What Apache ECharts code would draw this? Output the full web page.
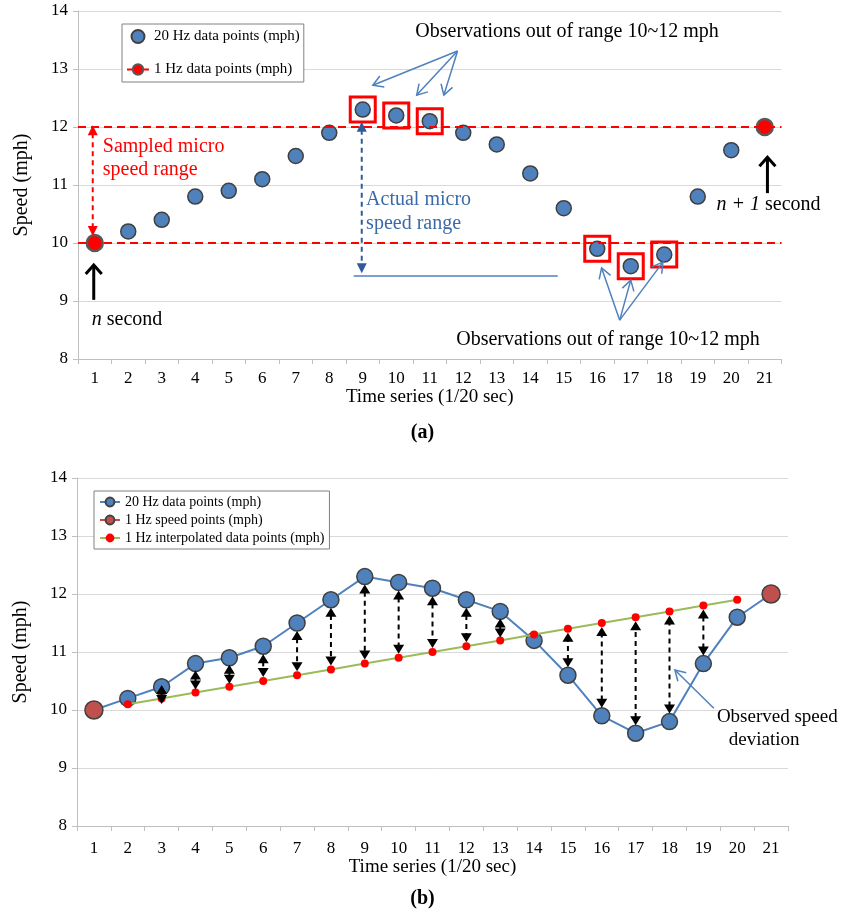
<!DOCTYPE html>
<html><head><meta charset="utf-8">
<script src="https://cdn.jsdelivr.net/npm/echarts@6/dist/echarts.min.js"></script>
<style>html,body{margin:0;padding:0;background:#fff}#c{width:845px;height:913px}</style>
</head><body><div id="c"></div>
<script>
// ---------------- data ----------------
const timeSteps = [1,2,3,4,5,6,7,8,9,10,11,12,13,14,15,16,17,18,19,20,21];
const speed20Hz = [10.0,10.2,10.4,10.8,10.9,11.1,11.5,11.9,12.3,12.2,12.1,11.9,11.7,11.2,10.6,9.9,9.6,9.8,10.8,11.6,12.0];
const oneHzSteps = [1,21];
const oneHzSpeed = [10.0,12.0];
const interpSteps = [2,3,4,5,6,7,8,9,10,11,12,13,14,15,16,17,18,19,20];
const interpSpeed = [10.1,10.2,10.3,10.4,10.5,10.6,10.7,10.8,10.9,11.0,11.1,11.2,11.3,11.4,11.5,11.6,11.7,11.8,11.9];
const deviationSteps = [3,4,5,6,7,8,9,10,11,12,13,15,16,17,18,19];
const yMin = 8, yMax = 14, yStep = 1;
const rangeLow = 10, rangeHigh = 12;

// ---------------- derived ----------------
const FONT = 'Liberation Serif';
const pts20a = timeSteps.map((t,i)=>[t,speed20Hz[i]]).filter(p=>oneHzSteps.indexOf(p[0])<0);
const pts20b = timeSteps.map((t,i)=>[t,speed20Hz[i]]);
const ptsOut = pts20a.filter(p=>p[1]>rangeHigh||p[1]<rangeLow);
const pts1Hz = [[oneHzSteps[0],oneHzSpeed[0]],[(oneHzSteps[0]+oneHzSteps[1])/2,null],[oneHzSteps[1],oneHzSpeed[1]]];
const ptsInterp = interpSteps.map((t,i)=>[t,interpSpeed[i]]);
const cats = timeSteps.map(String);

const N20a = '20 Hz data points (mph)';
const N1a = '1 Hz data points (mph)';
const N20b = '20 Hz data points (mph) ';
const N1b = '1 Hz speed points (mph)';
const NIb = '1 Hz interpolated data points (mph)';

function catAxis(g, gap, margin){
  return {type:'category', gridIndex:g, data:cats, boundaryGap:true,
    axisLine:{lineStyle:{color:'#bfbfbf',width:1}},
    axisTick:{show:true,interval:0,length:5,lineStyle:{color:'#bfbfbf'}},
    axisLabel:{interval:0,color:'#000',fontSize:17,fontFamily:FONT,margin:margin},
    splitLine:{show:false},
    name:'Time series (1/20 sec)', nameLocation:'middle', nameGap:gap,
    nameTextStyle:{color:'#000',fontSize:19,fontFamily:FONT}};
}
function valX(g){ return {type:'value', gridIndex:g, min:0.5, max:21.5, show:false}; }
function yAx(g){
  return {type:'value', gridIndex:g, min:yMin, max:yMax, interval:yStep,
    axisLine:{show:true,lineStyle:{color:'#bfbfbf'}},
    axisTick:{show:true,length:5,lineStyle:{color:'#bfbfbf'}},
    splitLine:{lineStyle:{color:'#d9d9d9'}},
    axisLabel:{color:'#000',fontSize:17,fontFamily:FONT,margin:10},
    name:'Speed (mph)', nameLocation:'middle', nameGap:46,
    nameTextStyle:{color:'#000',fontSize:20,fontFamily:FONT}};
}

const chart = echarts.init(document.getElementById('c'), null, {renderer:'canvas'});
chart.setOption({
  animation:false,
  backgroundColor:'#fff',
  textStyle:{fontFamily:FONT},
  title:[
    {text:'(a)', left:'center', top:418, textStyle:{fontSize:20,fontWeight:'bold',fontFamily:FONT,color:'#000'}},
    {text:'(b)', left:'center', top:884, textStyle:{fontSize:20,fontWeight:'bold',fontFamily:FONT,color:'#000'}}
  ],
  grid:[{left:78,top:11,width:703.5,height:348},{left:77,top:478,width:711,height:348}],
  xAxis:[catAxis(0,27,11), valX(0), catAxis(1,31,14), valX(1)],
  yAxis:[yAx(0), yAx(1)],
  legend:[
    {data:[N20a,N1a], orient:'vertical', left:122, top:24, itemWidth:22, itemHeight:13, itemGap:18,
     padding:[5,4,5,4], borderColor:'#808080', borderWidth:1, backgroundColor:'#fff',
     textStyle:{fontSize:15,fontFamily:FONT,color:'#000'}},
    {data:[N20b,N1b,NIb], orient:'vertical', left:94, top:491, itemWidth:20, itemHeight:11, itemGap:4,
     padding:[4,5,4,5], borderColor:'#808080', borderWidth:1, backgroundColor:'#fff',
     textStyle:{fontSize:14,fontFamily:FONT,color:'#000'}}
  ],
  series:[
    {type:'scatter', name:N20a, xAxisIndex:1, yAxisIndex:0, data:pts20a, symbolSize:15,
     itemStyle:{color:'#4F81BD',borderColor:'#404040',borderWidth:1.5,opacity:1}, z:3},
    {type:'line', name:N1a, xAxisIndex:1, yAxisIndex:0, data:pts1Hz, connectNulls:false,
     symbol:'circle', symbolSize:16, showAllSymbol:true,
     itemStyle:{color:'#FF0000',borderColor:'#595959',borderWidth:2.5},
     lineStyle:{color:'#FF0000',width:2}, z:4,
     markLine:{silent:true, symbol:'none', label:{show:false},
       lineStyle:{color:'#FF0000',type:[8,5],width:2},
       data:[{yAxis:rangeHigh},{yAxis:rangeLow}]}},
    {type:'scatter', name:'out', xAxisIndex:1, yAxisIndex:0, data:ptsOut, symbol:'rect', symbolSize:25,
     itemStyle:{color:'rgba(0,0,0,0)',borderColor:'#FF0000',borderWidth:3,opacity:1}, z:5, silent:true},
    {type:'line', name:N20b, xAxisIndex:3, yAxisIndex:1, data:pts20b, symbol:'circle', symbolSize:16,
     itemStyle:{color:'#4F81BD',borderColor:'#404040',borderWidth:1.5},
     lineStyle:{color:'#4F81BD',width:2}, z:3},
    {type:'line', name:N1b, xAxisIndex:3, yAxisIndex:1, data:pts1Hz, connectNulls:false,
     symbol:'circle', symbolSize:18,
     itemStyle:{color:'#C0504D',borderColor:'#404040',borderWidth:1.5},
     lineStyle:{color:'#C0504D',width:2}, z:4},
    {type:'line', name:NIb, xAxisIndex:3, yAxisIndex:1, data:ptsInterp, symbol:'circle', symbolSize:8,
     itemStyle:{color:'#FF0000',borderWidth:0},
     lineStyle:{color:'#9BBB59',width:2}, z:5}
  ]
});

// ---------------- annotations ----------------
const toA = (x,y)=>chart.convertToPixel({seriesIndex:0},[x,y]);
const toB = (x,y)=>chart.convertToPixel({seriesIndex:3},[x,y]);
const G = [];
function seg(p1,p2,color,w,dash){
  G.push({type:'line',silent:true,z:100,shape:{x1:p1[0],y1:p1[1],x2:p2[0],y2:p2[1]},
    style:{stroke:color,lineWidth:w,lineDash:dash||null}});
}
function head(tip,from,len,hw,color,filled,w){
  let dx=tip[0]-from[0], dy=tip[1]-from[1]; const L=Math.hypot(dx,dy)||1; dx/=L; dy/=L;
  const bx=tip[0]-dx*len, by=tip[1]-dy*len, nx=-dy, ny=dx;
  const pts=[[bx+nx*hw,by+ny*hw],[tip[0],tip[1]],[bx-nx*hw,by-ny*hw]];
  if(filled) G.push({type:'polygon',silent:true,z:101,shape:{points:pts},style:{fill:color}});
  else G.push({type:'polyline',silent:true,z:101,shape:{points:pts},style:{stroke:color,lineWidth:w,fill:null,lineJoin:'miter'}});
}
function arrow(from,tip,color,w,len,hw,filled,dash){
  let dx=tip[0]-from[0], dy=tip[1]-from[1]; const L=Math.hypot(dx,dy)||1;
  const end = filled ? [tip[0]-dx/L*len*0.8, tip[1]-dy/L*len*0.8] : tip;
  seg(from,end,color,w,dash);
  head(tip,from,len,hw,color,filled,w);
}
function dblArrow(a,b,color,w,len,hw,dash){
  let dx=b[0]-a[0], dy=b[1]-a[1]; const L=Math.hypot(dx,dy)||1; dx/=L; dy/=L;
  if(L>2*len) seg([a[0]+dx*len*0.8,a[1]+dy*len*0.8],[b[0]-dx*len*0.8,b[1]-dy*len*0.8],color,w,dash);
  head(a,b,len,hw,color,true,w);
  head(b,a,len,hw,color,true,w);
}
function text(p,str,color,size,align,rich){
  const st={text:str,fill:color,font:size+'px "'+FONT+'"',fontSize:size,fontFamily:FONT,
    align:align||'left',textAlign:align||'left',verticalAlign:'middle',textVerticalAlign:'middle'};
  if(rich) st.rich=rich;
  G.push({type:'text',silent:true,z:102,x:p[0],y:p[1],style:st});
}
const ital = s=>({i:{fontStyle:'italic',fontSize:s,fontFamily:FONT,fill:'#000'},r:{fontSize:s,fontFamily:FONT,fill:'#000'}});

const BLUE='#4F81BD';
// (a) top observations
text(toA(15.1,13.64),'Observations out of range 10~12 mph','#000',20,'center');
const oT=toA(11.83,13.31);
arrow(oT,toA(9.3,12.72),BLUE,1.5,10,6,false);
arrow(oT,toA(10.61,12.55),BLUE,1.5,10,6,false);
arrow(oT,toA(11.42,12.55),BLUE,1.5,10,6,false);
// (a) bottom observations
text(toA(16.32,8.33),'Observations out of range 10~12 mph','#000',20,'center');
const oB=toA(16.67,8.67);
arrow(oB,toA(16.13,9.57),BLUE,1.5,10,6,false);
arrow(oB,toA(17.0,9.36),BLUE,1.5,10,6,false);
arrow(oB,toA(17.96,9.67),BLUE,1.5,10,6,false);
// sampled range
dblArrow(toA(0.94,12.03),toA(0.94,10.12),'#FF0000',2,10,5,[5,4]);
text(toA(1.24,11.66),'Sampled micro','#FF0000',20,'left');
text(toA(1.24,11.26),'speed range','#FF0000',20,'left');
// actual range
dblArrow(toA(8.97,12.09),toA(8.97,9.48),'#2E5C99',2,10,5,[5,4]);
seg(toA(8.73,9.43),toA(14.82,9.43),BLUE,1.5);
text(toA(9.1,10.74),'Actual micro','#3B6AA8',20,'left');
text(toA(9.1,10.33),'speed range','#3B6AA8',20,'left');
// n second / n+1 second
arrow(toA(0.97,9.02),toA(0.97,9.62),'#000',3,9,8,false);
text(toA(0.91,8.67),'{i|n} {r|second}','#000',20,'left',ital(20));
arrow(toA(21.08,10.86),toA(21.08,11.48),'#000',3,9,8,false);
text(toA(19.56,10.66),'{i|n + 1} {r|second}','#000',20,'left',ital(20));

// (b) deviation arrows
deviationSteps.forEach(s=>{
  const vObs = speed20Hz[timeSteps.indexOf(s)], vInt = interpSpeed[interpSteps.indexOf(s)];
  const pO=toB(s,vObs), pI=toB(s,vInt);
  const sg = pI[1]>pO[1]?1:-1;
  let y1=pO[1]+sg*8, y2=pI[1]-sg*4;
  const minLen=19;
  if((y2-y1)*sg<minLen){const m=(y1+y2)/2; y1=m-sg*minLen/2; y2=m+sg*minLen/2;}
  dblArrow([pO[0],y1],[pO[0],y2],'#000',2,9,5.5,[5,4]);
});
text(toB(19.4,9.88),'Observed speed','#000',19,'left');
text(toB(19.75,9.48),'deviation','#000',19,'left');
arrow(toB(19.31,10.03),toB(18.16,10.69),BLUE,1.5,10,6,false);

chart.setOption({graphic:{elements:G}});
</script></body></html>
